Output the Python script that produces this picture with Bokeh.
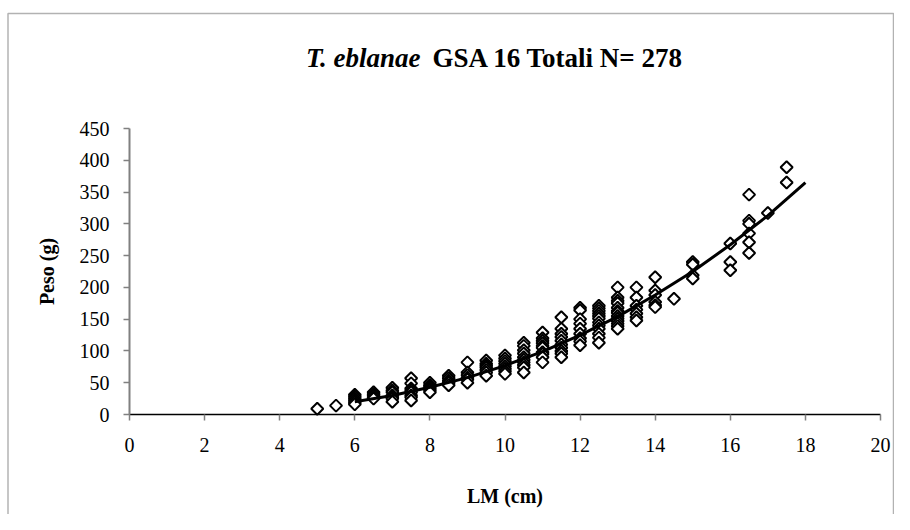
from bokeh.plotting import figure
from bokeh.models import Range1d, FixedTicker, Label, BoxAnnotation, ColumnDataSource
from bokeh.embed import file_html
from bokeh.resources import INLINE

# ---- data ----
col_5 = [9]
col_5_5 = [14]
col_6 = [31, 28, 25, 22, 19, 16]
col_6_5 = [35, 32, 30, 27, 25]
col_7 = [42, 38, 35, 30, 27, 25, 20]
col_7_5 = [57, 49, 41, 38, 35, 30, 27, 22]
col_8 = [50, 46, 44, 41, 38, 35]
col_8_5 = [61, 57, 53, 50, 46]
col_9 = [82, 66, 62, 58, 55, 50]
col_9_5 = [85, 80, 77, 74, 70, 66, 61]
col_10 = [93, 88, 84, 80, 76, 72, 68, 64]
col_10_5 = [113, 108, 101, 96, 90, 86, 82, 78, 74, 66]
col_11 = [129, 120, 116, 112, 108, 105, 98, 95, 90, 82]
col_11_5 = [153, 135, 127, 122, 116, 110, 105, 100, 96, 90]
col_12 = [168, 164, 150, 143, 135, 127, 120, 115, 109]
col_12_5 = [171, 167, 163, 159, 155, 151, 145, 140, 135, 127, 121, 113]
col_13 = [200, 184, 179, 175, 168, 163, 160, 155, 151, 147, 143, 139, 135]
col_13_5 = [200, 184, 171, 165, 159, 153, 148]
col_14 = [216, 195, 188, 177, 172, 169]
col_14_5 = [182]
col_15 = [240, 236, 219, 214]
col_16 = [269, 240, 227]
col_16_5 = [346, 305, 300, 285, 271, 254]
col_17 = [317]
col_17_5 = [389, 365]

lengths = [5, 5.5, 6, 6.5, 7, 7.5, 8, 8.5, 9, 9.5, 10, 10.5, 11, 11.5, 12,
           12.5, 13, 13.5, 14, 14.5, 15, 16, 16.5, 17, 17.5]
weights = [col_5, col_5_5, col_6, col_6_5, col_7, col_7_5, col_8, col_8_5,
           col_9, col_9_5, col_10, col_10_5, col_11, col_11_5, col_12,
           col_12_5, col_13, col_13_5, col_14, col_14_5, col_15, col_16,
           col_16_5, col_17, col_17_5]

trend_x = [6, 7, 8, 9, 10, 11, 12, 13, 14, 15, 16, 17, 18]
trend_y = [20, 30, 43, 58, 77, 99, 125, 154, 188, 225, 267, 313, 365]

x_ticks = [0, 2, 4, 6, 8, 10, 12, 14, 16, 18, 20]
y_ticks = [0, 50, 100, 150, 200, 250, 300, 350, 400, 450]
x_bounds = (0, 20)
y_bounds = (0, 450)

title_species = "T. eblanae"
title_rest = "GSA 16 Totali N= 278"
x_label = "LM (cm)"
y_label = "Peso (g)"

xs, ys = [], []
for L, ws in zip(lengths, weights):
    for w in ws:
        xs.append(L)
        ys.append(w)
src = ColumnDataSource(dict(x=xs, y=ys))

FONT = "Liberation Serif"

# pixel layout of the canvas (frame covers the whole canvas)
W, H = 894, 514
X0_PX, X20_PX = 129.0, 880.0      # pixel of x=0 and x=20
Y0_PX, Y450_PX = 414.0, 128.0     # pixel of y=0 and y=450
sx = (X20_PX - X0_PX) / 20.0
sy = (Y0_PX - Y450_PX) / 450.0

def px_to_x(px):
    return (px - X0_PX) / sx

def py_to_y(py):
    return (Y0_PX - py) / sy

p = figure(width=W, height=H, output_backend="svg", toolbar_location=None,
           x_range=Range1d(px_to_x(0), px_to_x(W)),
           y_range=Range1d(py_to_y(H), py_to_y(0)),
           min_border=0)
p.xgrid.visible = False
p.ygrid.visible = False
p.outline_line_color = None
p.background_fill_color = "white"
p.border_fill_color = "white"

p.xaxis.ticker = FixedTicker(ticks=x_ticks)
p.yaxis.ticker = FixedTicker(ticks=y_ticks)
p.xaxis.fixed_location = 0
p.yaxis.fixed_location = 0
p.xaxis.bounds = x_bounds
p.yaxis.bounds = y_bounds
for ax in (p.xaxis, p.yaxis):
    ax.major_tick_in = 0
    ax.major_tick_out = 6
    ax.minor_tick_line_color = None
    ax.major_tick_line_color = "#808080"
    ax.major_tick_line_width = 1.5
    ax.major_label_text_font = FONT
    ax.major_label_text_font_size = "20px"
    ax.major_label_text_color = "black"
    ax.axis_label_text_font = FONT
    ax.axis_label_text_font_size = "20px"
    ax.axis_label_text_font_style = "bold"
    ax.axis_label_text_color = "black"

p.xaxis.axis_line_color = "black"
p.xaxis.axis_line_width = 1.5
p.xaxis.major_label_standoff = 17
p.xaxis.axis_label = x_label
p.xaxis.axis_label_standoff = 30

p.yaxis.axis_line_color = "#808080"
p.yaxis.axis_line_width = 2
p.yaxis.major_label_standoff = 14
p.yaxis.axis_label = y_label
p.yaxis.axis_label_standoff = 19

p.scatter("x", "y", source=src, marker="square", angle=0.785398, size=8.5,
          fill_color="white", line_color="black", line_width=2)
p.line(trend_x, trend_y, line_color="black", line_width=3)

p.add_layout(Label(x=px_to_x(420), y=py_to_y(57), text=title_species,
                   text_align="right", text_baseline="alphabetic",
                   text_font=FONT, text_font_size="27px",
                   text_font_style="bold italic", text_color="black"))
p.add_layout(Label(x=px_to_x(432), y=py_to_y(57), text=title_rest,
                   text_align="left", text_baseline="alphabetic",
                   text_font=FONT, text_font_size="27px",
                   text_font_style="bold", text_color="black"))

p.add_layout(BoxAnnotation(left=px_to_x(7.5), right=px_to_x(W - 1.0),
                           top=py_to_y(13), bottom=py_to_y(H + 40),
                           fill_alpha=0, line_color="black", line_width=1.5))

open("out.html", "w").write(file_html(p, INLINE))
